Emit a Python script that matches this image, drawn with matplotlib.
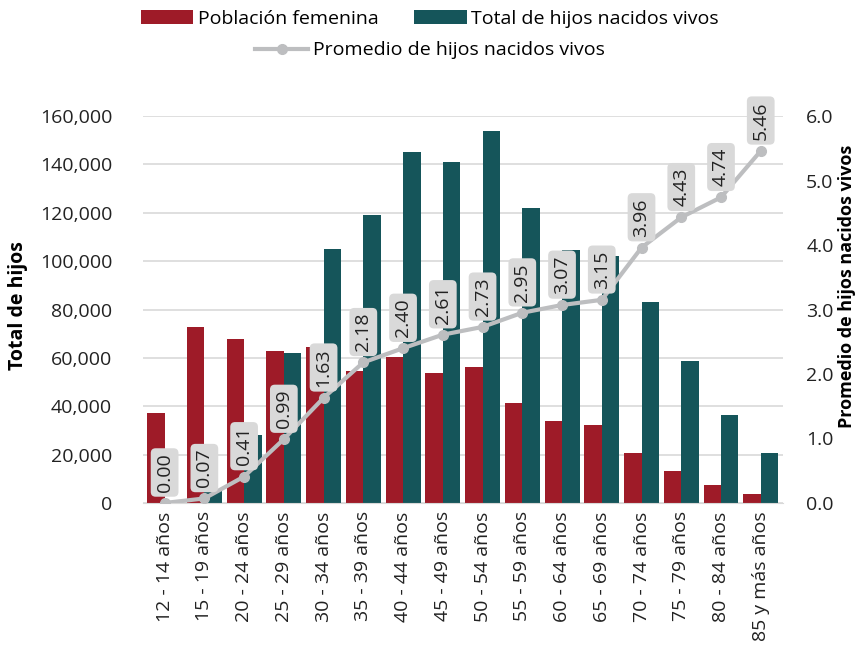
import matplotlib
matplotlib.use("Agg")
import matplotlib.pyplot as plt
import numpy as np

# datos
grupos = ["12 - 14 años", "15 - 19 años", "20 - 24 años", "25 - 29 años",
          "30 - 34 años", "35 - 39 años", "40 - 44 años", "45 - 49 años",
          "50 - 54 años", "55 - 59 años", "60 - 64 años", "65 - 69 años",
          "70 - 74 años", "75 - 79 años", "80 - 84 años", "85 y más años"]
poblacion = [37100, 72800, 67800, 62900, 64500, 54700, 60500, 53700,
             56300, 41500, 34000, 32300, 20600, 13250, 7600, 3800]
total_hijos = [0, 5100, 28000, 62200, 105100, 119100, 145100, 141000,
               153800, 121900, 104800, 102300, 83300, 58800, 36300, 20600]
promedio = [0.00, 0.07, 0.41, 0.99, 1.63, 2.18, 2.40, 2.61,
            2.73, 2.95, 3.07, 3.15, 3.96, 4.43, 4.74, 5.46]

ROJO = "#9E1B28"
VERDE = "#15555A"
GRIS = "#BDBEC0"

plt.rcParams['font.family'] = ['Open Sans', 'DejaVu Sans']

fig = plt.figure(figsize=(8.6, 6.47), dpi=100)
ax = fig.add_axes([0.166, 0.2226, 0.744, 0.598])
ax2 = ax.twinx()

x = np.arange(len(grupos))
w = 0.44
ax.bar(x - w/2, poblacion, w, color=ROJO, label="Población femenina", zorder=2)
ax.bar(x + w/2, total_hijos, w, color=VERDE, label="Total de hijos nacidos vivos", zorder=2)

ax2.plot(x, promedio, color=GRIS, lw=3, marker='o', ms=7, label="Promedio de hijos nacidos vivos", zorder=3)
for xi, v in zip(x, promedio):
    ax2.annotate(f"{v:.2f}", (xi, v), xytext=(0, 8), textcoords='offset points',
                 rotation=90, ha='center', va='bottom', fontsize=14, color='#222222',
                 bbox=dict(boxstyle='round,pad=0.25', fc='#D9D9D9', ec='none'), zorder=4)

ax.set_xlim(-0.55, len(grupos) - 0.45)
ax.set_ylim(0, 160000)
ax2.set_ylim(0, 6)
ax.set_yticks(np.arange(0, 160001, 20000))
ax.set_yticklabels(["0" if t == 0 else f"{t:,}" for t in range(0, 160001, 20000)])
ax2.set_yticks(np.arange(0, 6.01, 1))
ax2.set_yticklabels([f"{t:.1f}" for t in np.arange(0, 6.01, 1)])

ax.set_xticks(x)
ax.set_xticklabels(grupos, rotation=90, fontsize=14.3)
ax.grid(axis='y', color='#D9D9D9', lw=1.2, zorder=0)
ax.set_axisbelow(True)

for a in (ax, ax2):
    for s in a.spines.values():
        s.set_visible(False)
    a.tick_params(length=0, labelsize=14, colors='#222222')
ax.spines['bottom'].set_visible(True)
ax.spines['bottom'].set_color('#D9D9D9')
ax.tick_params(axis='y', pad=22)
ax.tick_params(axis='x', pad=6)
ax2.tick_params(axis='y', pad=17)

ax.set_ylabel("Total de hijos", fontsize=14, fontweight='bold')
ax.yaxis.set_label_coords(-0.18, 0.51)
ax2.set_ylabel("Promedio de hijos nacidos vivos", fontsize=13, fontweight='bold')
ax2.yaxis.set_label_coords(1.086, 0.56)

h1, l1 = ax.get_legend_handles_labels()
h2, l2 = ax2.get_legend_handles_labels()
fig.legend(h1, l1, loc='upper center', bbox_to_anchor=(0.5, 1.012), ncol=2, frameon=False,
           fontsize=14, handlelength=2.7, columnspacing=1.8, handletextpad=0.25)
fig.legend(h2, l2, loc='upper center', bbox_to_anchor=(0.5, 0.963), ncol=1, frameon=False,
           fontsize=14, handlelength=2.7, handletextpad=0.25)

fig.savefig("out.png", dpi=100)
